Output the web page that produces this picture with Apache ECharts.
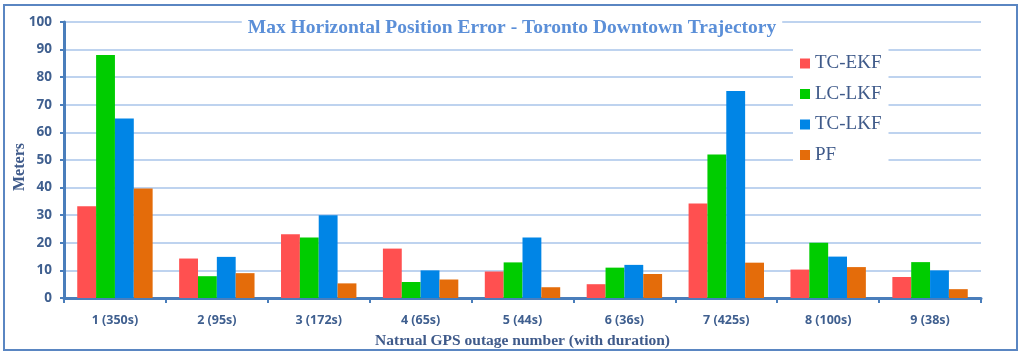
<!DOCTYPE html>
<html><head><meta charset="utf-8">
<script src="https://cdn.jsdelivr.net/npm/echarts@6/dist/echarts.min.js"></script>
<style>html,body{margin:0;padding:0;background:#fff}#c{width:1024px;height:358px}</style>
</head><body><div id="c"></div>
<script>
var categories = ['1 (350s)','2 (95s)','3 (172s)','4 (65s)','5 (44s)','6 (36s)','7 (425s)','8 (100s)','9 (38s)'];
var tcEkf = [33.2, 14.3, 23.1, 17.9, 9.6, 5.0, 34.2, 10.3, 7.6];
var lcLkf = [88, 7.9, 21.9, 5.8, 12.9, 11, 52, 20, 13];
var tcLkf = [65, 14.9, 30, 10, 21.9, 12, 75, 15, 10];
var pf = [39.7, 9, 5.3, 6.7, 3.9, 8.7, 12.8, 11.2, 3.2];
var seriesNames = ['TC-EKF','LC-LKF','TC-LKF','PF'];
var seriesColors = ['#ff5050','#00cc00','#0085e6','#e46c0a'];
var seriesData = [tcEkf, lcLkf, tcLkf, pf];

var chart = echarts.init(document.getElementById('c'));
var axisBlue = '#4a7ebb';
var labelColor = '#3f5f8f';
chart.setOption({
  animation: false,
  title: {
    text: 'Max Horizontal Position Error - Toronto Downtown Trajectory',
    left: 'center', top: 15,
    backgroundColor: '#fff',
    padding: [3, 6, 3, 6],
    textStyle: { fontFamily: 'Liberation Serif', fontWeight: 'bold', fontSize: 19.5, color: '#5b8fd8' }
  },
  legend: {
    orient: 'vertical', left: 793, top: 46,
    backgroundColor: '#fff',
    padding: [8, 7, 8, 7],
    itemWidth: 10, itemHeight: 10, itemGap: 11.5,
    icon: 'rect',
    textStyle: { fontFamily: 'Liberation Serif', fontSize: 19, color: '#3f5a8a', lineHeight: 19 },
    data: seriesNames
  },
  graphic: [{
    type: 'rect', shape: { x: 4, y: 5, width: 1013, height: 345 },
    style: { fill: 'none', stroke: '#5a86c2', lineWidth: 2 }, z: 100
  }, {
    type: 'text', x: 20, y: 167, rotation: Math.PI / 2,
    style: { text: 'Meters', fontFamily: 'Liberation Serif', fontWeight: 'bold', fontSize: 16, fill: '#3f5a8a', textAlign: 'center', textVerticalAlign: 'middle' }
  }],
  grid: { left: 64, right: 43, top: 22, bottom: 60 },
  xAxis: {
    type: 'category', data: categories,
    axisLine: { lineStyle: { color: axisBlue, width: 3 } },
    axisTick: { show: true, length: 5, lineStyle: { color: axisBlue, width: 2 } },
    axisLabel: { margin: 16, fontFamily: 'Open Sans', fontWeight: 'bold', fontSize: 12.5, color: labelColor },
    name: 'Natrual GPS outage number (with duration)',
    nameLocation: 'middle', nameGap: 35,
    nameTextStyle: { fontFamily: 'Liberation Serif', fontWeight: 'bold', fontSize: 15.5, color: '#3f5a8a' }
  },
  yAxis: {
    type: 'value', min: 0, max: 100, interval: 10,
    axisLine: { show: true, lineStyle: { color: axisBlue, width: 3 } },
    axisTick: { show: true, length: 4, lineStyle: { color: axisBlue, width: 2 } },
    axisLabel: { margin: 12, fontFamily: 'Open Sans', fontWeight: 'bold', fontSize: 13.5, color: labelColor },
    splitLine: { lineStyle: { color: '#a9c5ea', width: 1.5 } }
  },
  series: seriesNames.map(function (n, i) {
    return {
      name: n, type: 'bar', data: seriesData[i],
      barGap: '0%', barCategoryGap: '26%',
      itemStyle: { color: seriesColors[i] }
    };
  })
});
</script></body></html>
